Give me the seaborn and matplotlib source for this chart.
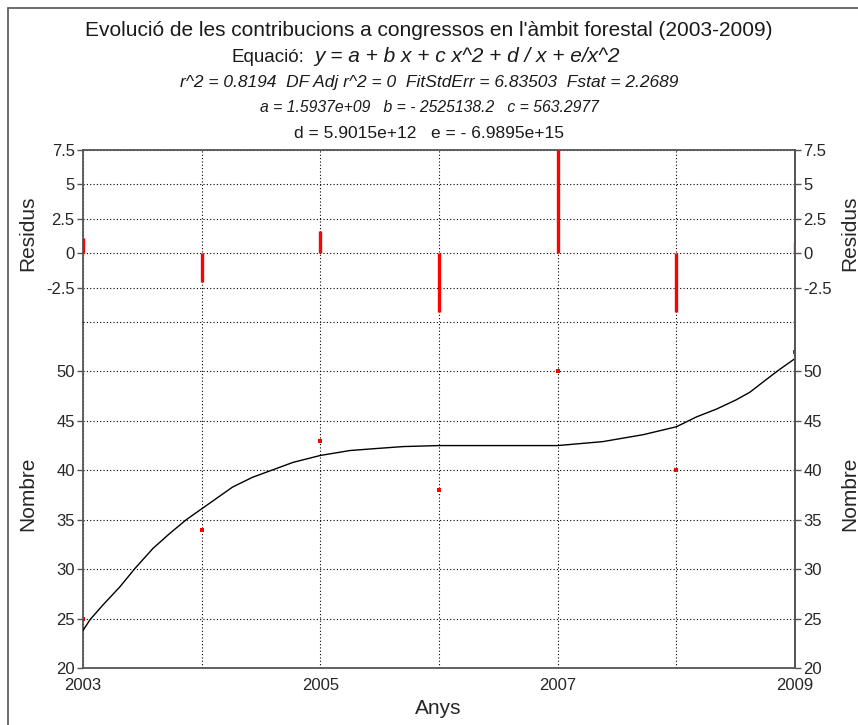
import matplotlib
matplotlib.use("Agg")
import matplotlib.pyplot as plt
import seaborn as sns
import pandas as pd
from matplotlib.lines import Line2D

# data
years = [2003, 2004, 2005, 2006, 2007, 2008, 2009]
counts = [25, 34, 43, 38, 50, 40, 52]
residuals = [1.1, -2.1, 1.6, -4.3, 7.5, -4.3, 0.8]

# fitted curve
fit_x = [2003.0, 2003.06, 2003.17, 2003.31, 2003.44, 2003.59, 2003.73, 2003.87,
         2004.0, 2004.26, 2004.43, 2004.77, 2005.0, 2005.25, 2005.47, 2005.7,
         2006.0, 2006.5, 2007.0, 2007.38, 2007.72, 2008.0, 2008.17, 2008.34,
         2008.5, 2008.62, 2008.76, 2008.87, 2009.0]
fit_y = [23.8, 24.9, 26.4, 28.2, 30.1, 32.1, 33.6, 35.0,
         36.1, 38.3, 39.3, 40.8, 41.5, 42.0, 42.2, 42.4,
         42.5, 42.5, 42.5, 42.9, 43.6, 44.4, 45.4, 46.2,
         47.1, 47.9, 49.2, 50.2, 51.3]

year_labels = ["2003", "", "2005", "", "2007", "", "2009"]
res_ticks = [-2.5, 0, 2.5, 5, 7.5]
num_ticks = [20, 25, 30, 35, 40, 45, 50]

df = pd.DataFrame({"Anys": years, "Nombre": counts, "Residus": residuals})
fit = pd.DataFrame({"x": fit_x, "y": fit_y})

sns.set_style("white")
plt.rcParams["font.family"] = ["Liberation Sans", "DejaVu Sans"]
plt.rcParams["text.color"] = "#1a1a1a"

fig = plt.figure(figsize=(8.58, 7.25), dpi=100)
W, H = 858, 725
left, right = 83, 795
ax_r = fig.add_axes([left / W, 1 - 322 / H, (right - left) / W, (322 - 150) / H])
ax_n = fig.add_axes([left / W, 1 - 668 / H, (right - left) / W, (668 - 322) / H])

spine_col = "#555555"
tick_fs = 12
lab_fs = 15
grid_kw = dict(color="black", linestyle=(0, (1, 2)), lw=0.8)

# residual panel
ax_r.vlines(df["Anys"], 0, df["Residus"], color="red", lw=2.4, zorder=3)
ax_r.set_xlim(2003, 2009)
ax_r.set_ylim(-5, 7.5)
ax_r.set_yticks(res_ticks)
ax_r.set_yticklabels([f"{t:g}" for t in res_ticks])
ax_r.set_xticks(years)
ax_r.tick_params(axis="x", bottom=False, labelbottom=False)

# number panel
sns.lineplot(data=fit, x="x", y="y", color="black", lw=1.0, ax=ax_n, zorder=3)
sns.scatterplot(data=df, x="Anys", y="Nombre", color="red", marker="s", s=7,
                linewidth=0, ax=ax_n, zorder=4)
ax_n.set_xlim(2003, 2009)
ax_n.set_ylim(20, 55)
ax_n.set_yticks(num_ticks)
ax_n.set_xticks(years)
ax_n.set_xticklabels(year_labels)
# dotted boundary between the two panels
ax_n.axhline(55, clip_on=False, zorder=5, **grid_kw)

for ax in (ax_r, ax_n):
    ax.grid(True, **grid_kw)
    ax.set_axisbelow(True)
    for s in ax.spines.values():
        s.set_color(spine_col)
        s.set_linewidth(1.3)
    ax.tick_params(axis="y", direction="out", length=4, width=1, color=spine_col,
                   labelsize=tick_fs, pad=2)
    ax.tick_params(axis="x", direction="out", length=5, width=1, color=spine_col,
                   labelsize=tick_fs, pad=2)
    ax.set_xlabel("")
    ax.set_ylabel("")

ax_r.spines["bottom"].set_visible(False)
ax_n.spines["top"].set_visible(False)

# right side axes
for ax, ticks, name, ly in ((ax_r, res_ticks, "Residus", 0.517),
                            (ax_n, num_ticks, "Nombre", 0.503)):
    tw = ax.twinx()
    tw.set_ylim(ax.get_ylim())
    tw.set_yticks(ticks)
    tw.set_yticklabels([f"{t:g}" for t in ticks])
    tw.tick_params(axis="y", direction="out", length=4, width=1, color=spine_col,
                   labelsize=tick_fs, pad=2)
    for s in tw.spines.values():
        s.set_visible(False)
    tw.spines["right"].set_visible(True)
    tw.spines["right"].set_color(spine_col)
    tw.spines["right"].set_linewidth(1.3)
    tw.set_ylabel(name, fontsize=lab_fs)
    tw.yaxis.set_label_coords(1.063, ly)
    ax.set_ylabel(name, fontsize=lab_fs)
    ax.yaxis.set_label_coords(-0.0646, ly)

ax_n.set_xlabel("Anys", fontsize=lab_fs)
ax_n.xaxis.set_label_coords(0.4986, -0.09)

# titles
fig.text(0.5, 1 - 30 / H, "Evolució de les contribucions a congressos en l'àmbit forestal (2003-2009)",
         ha="center", va="center", fontsize=15)
fig.text(304 / W, 1 - 57 / H, "Equació:", ha="right", va="center", fontsize=13.5)
fig.text(314 / W, 1 - 57 / H, "y = a + b x + c x^2 + d / x + e/x^2", ha="left", va="center",
         fontsize=15, style="italic")
fig.text(0.5, 1 - 83 / H, "r^2 = 0.8194  DF Adj r^2 = 0  FitStdErr = 6.83503  Fstat = 2.2689",
         ha="center", va="center", fontsize=12.5, style="italic")
fig.text(0.5, 1 - 108 / H, "a = 1.5937e+09   b = - 2525138.2   c = 563.2977",
         ha="center", va="center", fontsize=11.3, style="italic")
fig.text(0.5, 1 - 133 / H, "d = 5.9015e+12   e = - 6.9895e+15",
         ha="center", va="center", fontsize=12.5)

# outer frame (left and top edges only visible)
fig.add_artist(Line2D([8 / W, 8 / W], [0, 1 - 8 / H], color="#555555", lw=1.2))
fig.add_artist(Line2D([8 / W, 1], [1 - 8 / H, 1 - 8 / H], color="#555555", lw=1.2))

fig.savefig("out.png", dpi=100)
